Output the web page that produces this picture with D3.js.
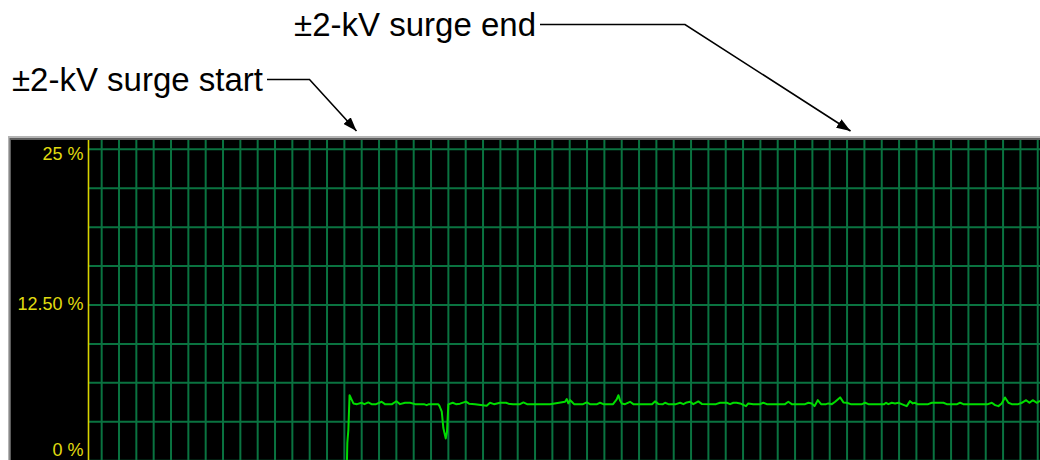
<!DOCTYPE html>
<html>
<head>
<meta charset="utf-8">
<script src="https://cdn.jsdelivr.net/npm/d3@7"></script>
<style>
  html, body { margin: 0; padding: 0; background: #ffffff; }
  svg { display: block; }
</style>
</head>
<body>
<svg id="chart" width="1040" height="460"></svg>
<script>
// Trace samples: time in grid divisions, level in percent
const times = [
  14.15, 14.17, 14.23, 14.30, 14.52, 14.73, 15.00, 15.16, 15.38, 15.57,
  15.83, 16.15, 16.34, 16.75, 17.00, 17.21, 17.50, 17.79, 18.08, 18.59,
  18.75, 18.88, 19.42, 19.49, 19.62, 19.71, 19.85, 19.92, 20.00, 20.25,
  20.44, 20.67, 21.02, 21.19, 21.54, 22.21, 22.40, 22.63, 22.98, 23.33,
  23.46, 23.73, 24.13, 24.33, 24.54, 25.87, 26.73, 26.83, 26.92, 27.02,
  27.12, 27.25, 27.77, 27.98, 28.17, 28.58, 28.75, 28.94, 29.50, 29.71,
  29.81, 29.90, 30.00, 30.19, 30.48, 30.67, 31.75, 31.92, 32.11, 32.38,
  32.50, 32.69, 33.13, 33.37, 33.56, 33.75, 33.94, 34.13, 34.42, 34.62,
  35.44, 35.67, 36.06, 36.25, 36.44, 36.63, 36.83, 37.17, 37.30, 37.59,
  37.98, 38.17, 38.37, 39.42, 39.61, 39.81, 40.58, 40.77, 40.96, 41.12,
  41.31, 41.50, 41.79, 41.92, 42.12, 42.31, 42.60, 42.79, 42.98, 43.21,
  43.86, 44.04, 44.23, 45.14, 45.25, 45.38, 45.58, 45.77, 45.96, 46.15,
  46.44, 46.63, 46.79, 46.92, 47.06, 47.68, 47.89, 48.56, 48.75, 49.35,
  49.52, 49.71, 51.13, 51.35, 51.54, 51.73, 51.92, 52.11, 52.31, 52.50,
  52.88, 53.08, 53.33, 53.52, 53.71, 53.94, 54.13
];
const values = [
  0.00, 1.42, 2.46, 5.26, 4.60, 4.54, 4.65, 4.54, 4.68, 4.54,
  4.54, 4.73, 4.54, 4.54, 4.77, 4.54, 4.65, 4.65, 4.54, 4.54,
  4.46, 4.54, 4.54, 4.38, 3.93, 2.62, 1.79, 2.30, 4.52, 4.65,
  4.54, 4.58, 4.74, 4.58, 4.54, 4.41, 4.65, 4.54, 4.65, 4.65,
  4.58, 4.54, 4.54, 4.68, 4.54, 4.54, 4.73, 4.94, 4.60, 4.86,
  4.73, 4.54, 4.54, 4.68, 4.54, 4.54, 4.65, 4.54, 4.54, 4.92,
  5.26, 4.86, 4.60, 4.54, 4.73, 4.54, 4.54, 4.76, 4.56, 4.54,
  4.65, 4.54, 4.54, 4.65, 4.54, 4.68, 4.73, 4.54, 4.76, 4.56,
  4.54, 4.65, 4.65, 4.54, 4.65, 4.65, 4.60, 4.38, 4.60, 4.54,
  4.54, 4.65, 4.54, 4.54, 4.73, 4.54, 4.54, 4.65, 4.60, 4.38,
  4.86, 4.54, 4.54, 4.60, 4.54, 4.73, 5.08, 4.68, 4.65, 4.54,
  4.54, 4.65, 4.54, 4.54, 4.65, 4.54, 4.65, 4.60, 4.65, 4.54,
  4.38, 4.78, 4.60, 4.65, 4.54, 4.54, 4.65, 4.65, 4.54, 4.54,
  4.65, 4.54, 4.54, 4.65, 4.46, 4.38, 4.60, 5.08, 4.65, 4.54,
  4.54, 4.65, 4.86, 4.65, 4.86, 4.65, 4.81
];

// Axis labels on the level scale
const yTicks = [0, 12.5, 25];
const yTickLabels = ["0 %", "12.50 %", "25 %"];

// Grid divisions
const gridTimes = d3.range(0, 55);
const gridLevels = d3.range(0, 25.001, 3.125);

// Event markers above the scope window
const eventLabels = ["±2-kV surge start", "±2-kV surge end"];
const eventTimes = [14.7, 43.2];

const W = 1040, H = 460;
const svg = d3.select("#chart");

// Scope window geometry
const frame = { left: 8, top: 136 };
const plot = { left: 11, top: 140, axisX: 88.5 };

const x = d3.scaleLinear().domain([-0.76, 54.13]).range([plot.axisX, W]);
const y = d3.scaleLinear().domain([0, 25]).range([460.7, 149.3]);

// Bevelled frame and black screen
svg.append("rect").attr("x", frame.left).attr("y", frame.top)
  .attr("width", W - frame.left).attr("height", H - frame.top).attr("fill", "#b4b4b4");
svg.append("rect").attr("x", frame.left + 1.5).attr("y", frame.top + 2)
  .attr("width", W - frame.left).attr("height", H - frame.top).attr("fill", "#5c5c5c");
svg.append("rect").attr("x", plot.left).attr("y", plot.top)
  .attr("width", W - plot.left).attr("height", H - plot.top).attr("fill", "#000000");

svg.append("clipPath").attr("id", "screen")
  .append("rect").attr("x", plot.axisX).attr("y", plot.top)
  .attr("width", W - plot.axisX).attr("height", H - plot.top);

const grid = svg.append("g").attr("clip-path", "url(#screen)");

grid.selectAll("line.v").data(gridTimes).join("line")
  .attr("class", "v")
  .attr("x1", d => x(d)).attr("x2", d => x(d))
  .attr("y1", plot.top).attr("y2", H)
  .attr("stroke", "#0a7340").attr("stroke-width", 2);

grid.selectAll("line.h").data(gridLevels).join("line")
  .attr("class", "h")
  .attr("x1", plot.axisX).attr("x2", W)
  .attr("y1", d => y(d)).attr("y2", d => y(d))
  .attr("stroke", "#0a7340").attr("stroke-width", 2);

// Yellow level axis
svg.append("line")
  .attr("x1", plot.axisX).attr("x2", plot.axisX)
  .attr("y1", plot.top).attr("y2", H)
  .attr("stroke", "#d8d400").attr("stroke-width", 1.6);

const yAxis = d3.axisLeft(y)
  .tickValues(yTicks)
  .tickFormat((d, i) => yTickLabels[i])
  .tickSize(0)
  .tickPadding(5);

const gy = svg.append("g")
  .attr("transform", `translate(${plot.axisX},0)`)
  .call(yAxis);
gy.select(".domain").remove();
// keep the end labels inside the screen: baseline clamped between top and bottom
gy.selectAll(".tick text")
  .attr("fill", "#e0dc10")
  .attr("font-family", "'Liberation Sans', Arial, sans-serif")
  .attr("font-size", 18)
  .attr("dy", null)
  .attr("y", d => Math.min(Math.max(y(d) + 4.6, 159), 455.5) - y(d));

// Measured trace
const line = d3.line().x(d => x(d[0])).y(d => y(d[1]));
grid.append("path")
  .datum(times.map((t, i) => [t, values[i]]))
  .attr("fill", "none")
  .attr("stroke", "#00dc00")
  .attr("stroke-width", 2)
  .attr("stroke-linejoin", "round")
  .attr("d", line);

// Event callouts with arrows
const defs = svg.append("defs");
defs.append("marker")
  .attr("id", "arrow")
  .attr("viewBox", "0 0 14 10")
  .attr("refX", 14).attr("refY", 5)
  .attr("markerWidth", 14).attr("markerHeight", 10)
  .attr("markerUnits", "userSpaceOnUse")
  .attr("orient", "auto")
  .append("path").attr("d", "M0,0 L14,5 L0,10 Z").attr("fill", "#000");

const callouts = [
  { textEnd: 263, lineY: 79.5, elbowX: 309.5 },
  { textEnd: 536, lineY: 24.5, elbowX: 685 }
];
const tipY = 131;

eventLabels.forEach((label, i) => {
  const c = callouts[i];
  svg.append("text")
    .attr("x", c.textEnd).attr("y", c.lineY + 11.5)
    .attr("text-anchor", "end")
    .attr("font-family", "'Liberation Sans', Arial, sans-serif")
    .attr("font-size", 33)
    .attr("fill", "#000")
    .text(label);
  svg.append("path")
    .attr("d", `M${c.textEnd + 4},${c.lineY} L${c.elbowX},${c.lineY} L${x(eventTimes[i])},${tipY}`)
    .attr("fill", "none")
    .attr("stroke", "#000")
    .attr("stroke-width", 1.6)
    .attr("marker-end", "url(#arrow)");
});
</script>
</body>
</html>
